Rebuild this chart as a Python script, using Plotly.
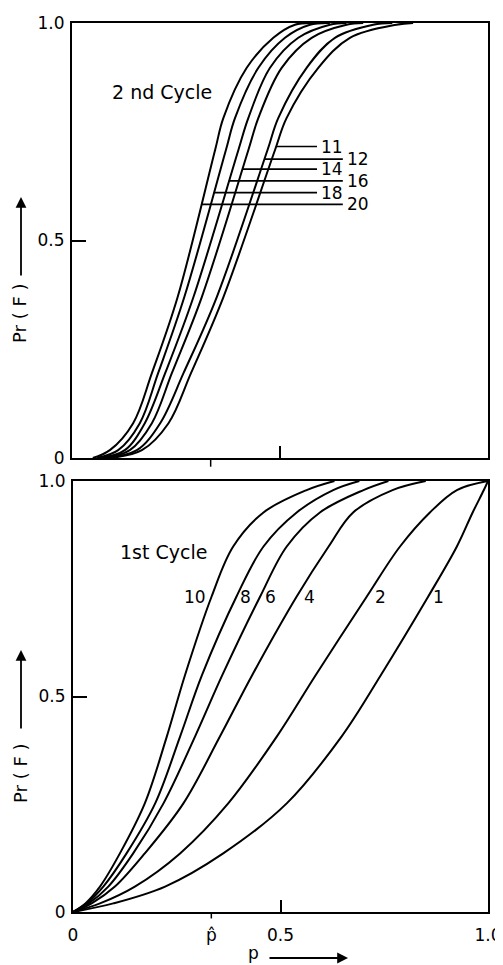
import numpy as np
import plotly.graph_objects as go

# ---------------- data ----------------
P_HAT = 1 / 3

# 2nd cycle: p values of each curve at common Pr(F) levels
PR2_LEVELS = [0, 0.018, 0.08, 0.195, 0.37, 0.708, 0.782, 0.897, 0.966, 0.996, 1.0]
P2_CURVES = {
    20: [0.05, 0.091, 0.147, 0.192, 0.254, 0.344, 0.364, 0.420, 0.484, 0.536, 0.58],
    18: [0.06, 0.111, 0.163, 0.207, 0.270, 0.370, 0.392, 0.448, 0.512, 0.572, 0.62],
    16: [0.07, 0.127, 0.175, 0.224, 0.292, 0.400, 0.424, 0.476, 0.544, 0.620, 0.66],
    14: [0.075, 0.139, 0.192, 0.240, 0.312, 0.424, 0.448, 0.504, 0.576, 0.660, 0.70],
    12: [0.08, 0.156, 0.212, 0.268, 0.348, 0.470, 0.496, 0.564, 0.632, 0.724, 0.77],
    11: [0.09, 0.168, 0.232, 0.286, 0.364, 0.488, 0.516, 0.592, 0.668, 0.780, 0.82],
}
# label level (Pr) for each 2nd-cycle curve and the p where its leader line ends
LABEL2_PR = {11: 0.716, 12: 0.687, 14: 0.664, 16: 0.637, 18: 0.610, 20: 0.583}
LABEL2_END = {11: 0.589, 12: 0.651, 14: 0.589, 16: 0.651, 18: 0.589, 20: 0.651}

# 1st cycle: p values of each curve at common Pr(F) levels
PR1_LEVELS = [0, 0.02, 0.059, 0.136, 0.252, 0.407, 0.55, 0.732, 0.848, 0.927, 0.979, 1.0]
P1_CURVES = {
    10: [0, 0.030, 0.065, 0.113, 0.173, 0.226, 0.270, 0.334, 0.386, 0.459, 0.563, 0.63],
    8:  [0, 0.033, 0.073, 0.129, 0.198, 0.258, 0.311, 0.394, 0.459, 0.539, 0.627, 0.69],
    6:  [0, 0.038, 0.085, 0.145, 0.218, 0.294, 0.360, 0.451, 0.515, 0.595, 0.700, 0.76],
    4:  [0, 0.045, 0.101, 0.173, 0.266, 0.354, 0.432, 0.539, 0.616, 0.675, 0.770, 0.85],
    2:  [0, 0.065, 0.149, 0.258, 0.374, 0.491, 0.585, 0.708, 0.788, 0.860, 0.925, 1.0],
    1:  [0, 0.097, 0.222, 0.362, 0.515, 0.647, 0.742, 0.856, 0.925, 0.963, 0.990, 1.0],
}
LABEL1_PR = 0.732

X_TICKVALS = [0, P_HAT, 0.5, 1.0]
X_TICKTEXT = ["0", "p\u0302", "0.5", "1.0"]
Y_TICKVALS = [0, 0.5, 1.0]
Y_TICKTEXT = ["0", "0.5", "1.0"]

# ---------------- layout helpers ----------------
# the page body has an 8 px margin, so the figure is drawn 8 px smaller and
# positions (given in window pixels) are converted accordingly
OFF = 8
W, H = 503 - OFF, 965 - OFF
FONT = "DejaVu Sans"


def px(x):
    return (x - OFF) / W


def py(y):
    return 1 - (y - OFF) / H


fig = go.Figure()

line_style = dict(color="black", width=2, shape="spline", smoothing=1.0)

for n, pvals in P2_CURVES.items():
    fig.add_trace(go.Scatter(x=pvals, y=PR2_LEVELS, mode="lines", line=line_style,
                             xaxis="x", yaxis="y", showlegend=False, hoverinfo="skip"))

for n, pvals in P1_CURVES.items():
    fig.add_trace(go.Scatter(x=pvals, y=PR1_LEVELS, mode="lines", line=line_style,
                             xaxis="x2", yaxis="y2", showlegend=False, hoverinfo="skip"))

shapes = []
annotations = []

# 2nd-cycle leader lines and labels
for n, lvl in LABEL2_PR.items():
    x0 = float(np.interp(lvl, PR2_LEVELS, P2_CURVES[n]))
    x1 = LABEL2_END[n]
    shapes.append(dict(type="line", xref="x", yref="y", x0=x0, x1=x1, y0=lvl, y1=lvl,
                       line=dict(color="black", width=1.6)))
    annotations.append(dict(xref="x", yref="y", x=x1, y=lvl, text=str(n), showarrow=False,
                            xanchor="left", yanchor="middle", xshift=2,
                            font=dict(family=FONT, size=17, color="black")))

# 1st-cycle curve labels
shift1 = {10: -4, 8: 1, 6: 3, 4: 5, 2: 6, 1: 3}
for n, pvals in P1_CURVES.items():
    xc = float(np.interp(LABEL1_PR, PR1_LEVELS, pvals))
    annotations.append(dict(xref="x2", yref="y2", x=xc, y=LABEL1_PR, text=str(n), showarrow=False,
                            xanchor="right" if n == 10 else "left", yanchor="middle",
                            xshift=shift1[n],
                            font=dict(family=FONT, size=17, color="black")))

# panel titles
annotations.append(dict(xref="x", yref="y", x=0.091, y=0.841, text="2 nd Cycle", showarrow=False,
                        xanchor="left", yanchor="middle", font=dict(family=FONT, size=19, color="black")))
annotations.append(dict(xref="x2", yref="y2", x=0.108, y=0.836, text="1st Cycle", showarrow=False,
                        xanchor="left", yanchor="middle", font=dict(family=FONT, size=19, color="black")))

# y-axis titles with arrows
for ytxt, ytip, ytail in [(313, 197, 277), (773, 650, 730)]:
    annotations.append(dict(xref="paper", yref="paper", x=px(20), y=py(ytxt), text="Pr ( F )",
                            textangle=-90, showarrow=False, xanchor="center", yanchor="middle",
                            font=dict(family=FONT, size=18, color="black")))
    annotations.append(dict(xref="paper", yref="paper", x=px(21), y=py(ytip), ax=0, ay=ytail - ytip,
                            text="", showarrow=True, arrowhead=2, arrowsize=1.2, arrowwidth=1.8,
                            arrowcolor="black"))

# x-axis title with arrow
annotations.append(dict(xref="paper", yref="paper", x=px(253), y=py(953), text="p", showarrow=False,
                        xanchor="center", yanchor="middle",
                        font=dict(family=FONT, size=17, color="black")))
annotations.append(dict(xref="paper", yref="paper", x=px(348), y=py(958), ax=-80, ay=0,
                        text="", showarrow=True, arrowhead=2, arrowsize=1.2, arrowwidth=1.8,
                        arrowcolor="black"))

# outward p-hat ticks
shapes.append(dict(type="line", xref="x", yref="y domain", x0=P_HAT, x1=P_HAT, y0=0, y1=-0.02,
                   line=dict(color="black", width=1.5)))
shapes.append(dict(type="line", xref="x2", yref="y2 domain", x0=P_HAT, x1=P_HAT, y0=0, y1=-0.015,
                   line=dict(color="black", width=1.5)))

axis_common = dict(range=[0, 1], showline=True, mirror=True, linecolor="black", linewidth=2,
                   showgrid=False, zeroline=False, fixedrange=True, automargin=False)
tickfont = dict(family=FONT, size=17, color="black")

fig.update_layout(
    width=W, height=H,
    margin=dict(l=0, r=0, t=0, b=0, pad=0, autoexpand=False),
    paper_bgcolor="white", plot_bgcolor="white",
    showlegend=False,
    xaxis=dict(domain=[px(72), px(488)], anchor="y", tickmode="array", tickvals=[], ticks="",
               showticklabels=False,
               minor=dict(tickmode="array", tickvals=[0.5], ticks="inside", ticklen=12,
                          tickwidth=1.5, tickcolor="black"),
               **axis_common),
    yaxis=dict(domain=[py(458), py(23)], anchor="x", tickmode="array", tickvals=Y_TICKVALS,
               ticktext=Y_TICKTEXT, ticks="inside", ticklen=14, tickwidth=1.5, tickcolor="black",
               tickfont=tickfont, ticklabelstandoff=2, **axis_common),
    xaxis2=dict(domain=[px(73), px(488)], anchor="y2", tickmode="array", tickvals=X_TICKVALS,
                ticktext=X_TICKTEXT, ticks="", tickfont=tickfont, ticklabelstandoff=7,
                minor=dict(tickmode="array", tickvals=[0.5], ticks="inside", ticklen=12,
                           tickwidth=1.5, tickcolor="black"),
                **axis_common),
    yaxis2=dict(domain=[py(912), py(481)], anchor="x2", tickmode="array", tickvals=Y_TICKVALS,
                ticktext=Y_TICKTEXT, ticks="inside", ticklen=14, tickwidth=1.5, tickcolor="black",
                tickfont=tickfont, ticklabelstandoff=2, **axis_common),
    shapes=shapes,
    annotations=annotations,
)

fig.write_html("out.html")
